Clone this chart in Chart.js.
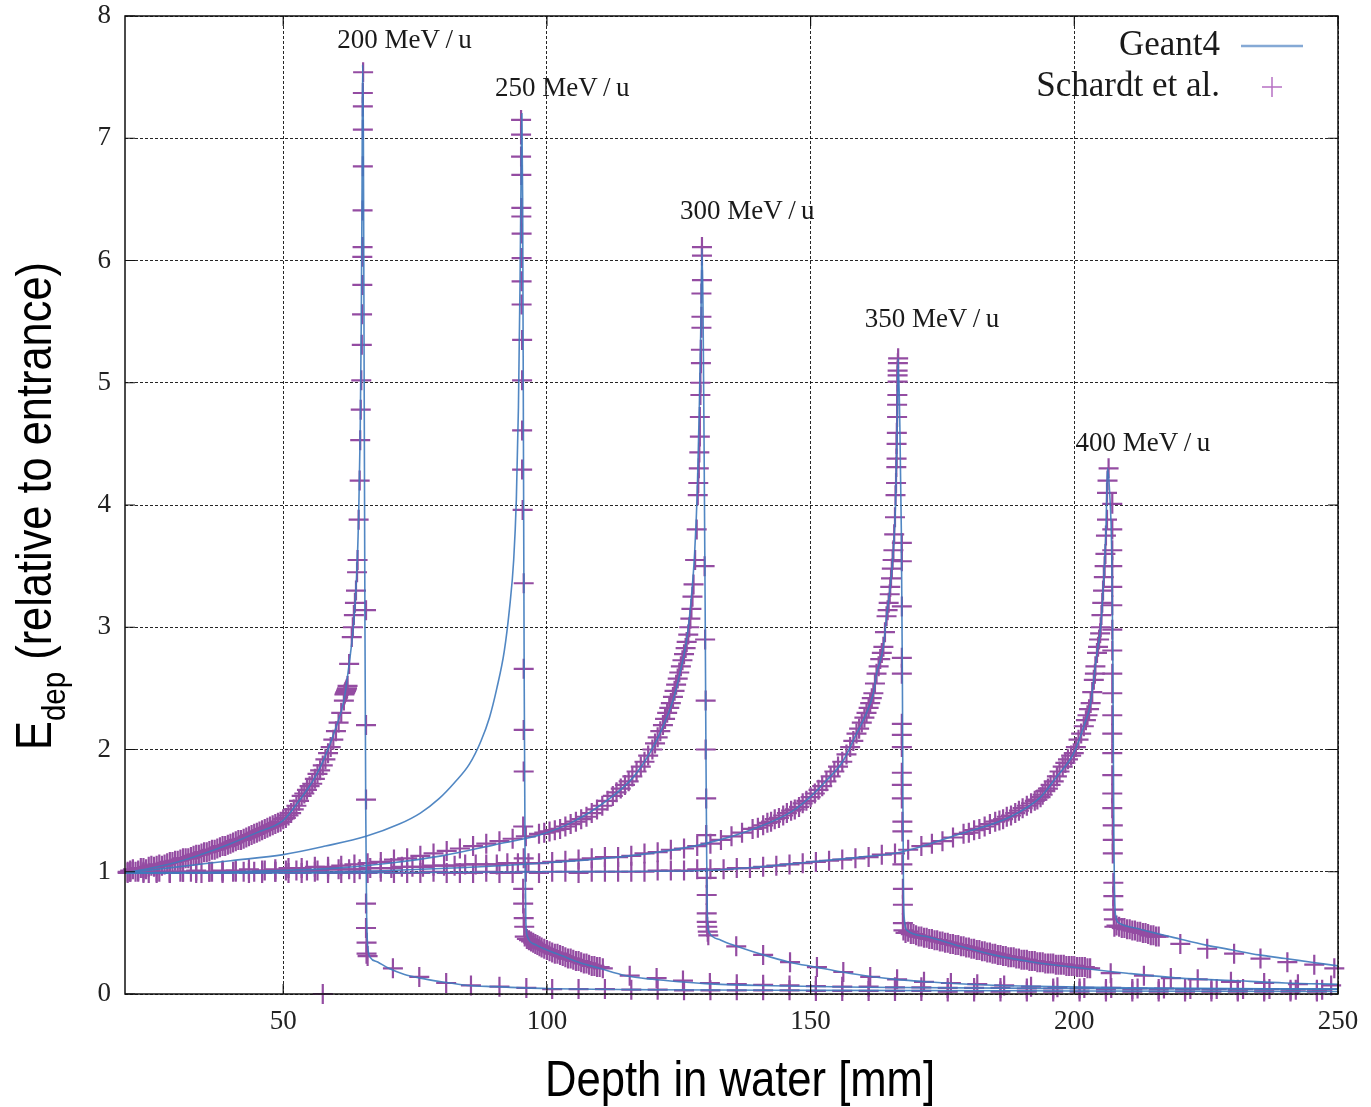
<!DOCTYPE html>
<html>
<head>
<meta charset="utf-8">
<script src="https://cdn.jsdelivr.net/npm/chart.js@4.4.1/dist/chart.umd.min.js"></script>
<style>
  html, body { margin: 0; padding: 0; background: #fff; }
</style>
</head>
<body>
<canvas id="braggChart" width="1371" height="1107"></canvas>
<script>
// axis ticks
const xTicks = [50, 100, 150, 200, 250];
const yTicks = [0, 1, 2, 3, 4, 5, 6, 7, 8];

const seriesNames = ['Geant4', 'Schardt et al.'];
const peakLabels = ['200 MeV\u2009/\u2009u', '250 MeV\u2009/\u2009u', '300 MeV\u2009/\u2009u', '350 MeV\u2009/\u2009u', '400 MeV\u2009/\u2009u'];
const peakLabelAt = [[73.0, 7.80], [102.9, 7.40], [138.0, 6.40], [173.0, 5.51], [213.0, 4.50]];

// Geant4 simulation, [depth mm, Edep rel.]
const g200 = [[20,0.99],[25,1.03],[30,1.08],[35,1.15],[40,1.23],[45,1.32],[50,1.42],[53,1.58],[56,1.77],[58,1.95],
  [60,2.18],[61.5,2.4],[62.5,2.7],[63.3,3.0],[63.9,3.4],[64.3,3.9],[64.6,4.6],[64.8,5.5],[64.95,6.6],[65.05,7.6],
  [65.2,7.0],[65.35,5.0],[65.5,3.0],[65.65,1.5],[65.8,0.7],[66.0,0.4],[66.5,0.3],[68,0.26],[70,0.21],[73,0.16],
  [76,0.13],[80,0.1],[85,0.07],[90,0.06],[100,0.045],[120,0.035],[150,0.03],[200,0.025],[250,0.02]];
const g250 = [[20,0.99],[30,1.04],[40,1.09],[50,1.14],[58,1.21],[65.7,1.29],[72,1.39],[76,1.48],[79.6,1.6],[82.5,1.73],
  [85.3,1.88],[87.5,2.07],[89.1,2.26],[90.5,2.5],[91.9,2.8],[92.9,3.15],[93.7,3.55],[94.2,4.04],[94.6,4.8],[94.9,5.8],
  [95.1,6.7],[95.25,7.2],[95.4,6.5],[95.55,4.5],[95.7,2.5],[95.85,1.2],[96.0,0.6],[96.3,0.47],[98,0.4],[100,0.36],
  [103,0.31],[106,0.26],[110,0.21],[115,0.15],[120,0.12],[125,0.1],[130,0.085],[140,0.07],[160,0.055],[200,0.045],[250,0.04]];
const g300 = [[20,0.99],[40,1.0],[60,1.03],[70,1.07],[80,1.13],[90,1.22],[98.6,1.3],[105,1.41],[111.3,1.58],[116.3,1.77],
  [119.5,1.97],[121.4,2.13],[123.9,2.4],[125.2,2.62],[126.5,2.9],[127.3,3.2],[128,3.6],[128.5,4.1],[128.9,4.8],[129.2,5.5],
  [129.4,6.1],[129.6,5.6],[129.8,4.5],[130,3.2],[130.15,2.0],[130.3,1.1],[130.45,0.6],[130.8,0.5],[133,0.44],[136,0.39],
  [141,0.32],[146,0.26],[151,0.22],[156,0.18],[161,0.145],[166,0.12],[172,0.1],[180,0.08],[190,0.065],[210,0.05],[250,0.04]];
const g350 = [[20,0.99],[60,1.0],[98.6,1.07],[117.6,1.14],[130,1.23],[140.4,1.37],[146.7,1.5],[149.9,1.61],[153.1,1.75],[156.2,1.91],
  [158.7,2.13],[160.6,2.3],[161.9,2.46],[162.5,2.62],[163.8,2.84],[164.4,3.09],[165.1,3.33],[165.7,3.63],[166.1,4.0],[166.4,4.6],
  [166.6,5.2],[166.9,4.7],[167.2,3.8],[167.4,2.6],[167.5,1.6],[167.6,0.9],[167.8,0.6],[168.3,0.52],[172,0.47],[178.4,0.39],
  [184.7,0.32],[192.3,0.26],[201.8,0.21],[210,0.17],[220,0.13],[230,0.11],[240,0.09],[250,0.08]];
const g400 = [[20,0.99],[60,0.99],[100,1.0],[130,1.01],[140.4,1.04],[149.9,1.08],[159.4,1.12],[167,1.16],[178.4,1.31],[187.9,1.45],
  [193.6,1.61],[196.7,1.78],[199.9,1.97],[201.8,2.19],[203.1,2.38],[204.3,2.79],[205,3.0],[205.6,3.41],[206,3.8],[206.3,4.3],
  [206.7,4.1],[207.1,3.6],[207.3,2.8],[207.4,2.0],[207.5,1.3],[207.6,0.9],[207.8,0.65],[208.5,0.58],[212.5,0.53],[220,0.45],
  [225,0.4],[230,0.36],[235,0.32],[240,0.29],[245,0.26],[250,0.23]];

// Schardt et al. measurements
const s200 = [[20.5,1.00],[21.5,1.02],[22.5,1.01],[23.5,1.03],[24.5,1.04],[25.5,1.04],[26.5,1.06],[27.5,1.06],[28.5,1.08],[29.5,1.09],
  [30.5,1.10],[31.5,1.11],[32.5,1.12],[33.5,1.14],[34.5,1.15],[35.5,1.16],[36.5,1.18],[37.5,1.19],[38.5,1.21],[39.5,1.22],
  [40.5,1.24],[41.5,1.26],[42.5,1.27],[43.5,1.29],[44.5,1.31],[45.5,1.33],[46.5,1.35],[47.5,1.37],[48.5,1.39],[49.5,1.41],
  [50.5,1.44],[51.5,1.48],[52.5,1.54],[53.5,1.62],[54.5,1.67],[55.5,1.72],[56.5,1.80],[57.5,1.87],[58.5,1.97],[59.5,2.08],
  [60.5,2.22],[61.0,2.30],[61.5,2.40],[61.8,2.47],[62.0,2.49],[62.5,2.70],[63.0,2.92],[63.4,3.10],[63.8,3.30],
  [21,1.01],[22,1.00],[23,1.03],[24,1.02],[25,1.05],[26,1.05],[27,1.05],[28,1.07],[29,1.08],[30,1.09],
  [31,1.11],[32,1.11],[33,1.13],[34,1.14],[35,1.16],[36,1.17],[37,1.18],[38,1.20],[39,1.21],[40,1.23],
  [41,1.25],[42,1.26],[43,1.28],[44,1.30],[45,1.32],[46,1.34],[47,1.36],[48,1.38],[49,1.40],[50,1.43],
  [51,1.46],[52,1.51],[53,1.58],[54,1.64],[55,1.70],[56,1.76],[57,1.83],[58,1.92],[59,2.02],[60,2.15],
  [61.6,2.45],[61.7,2.46],[61.9,2.48],[62.1,2.50],[62.2,2.52],[63.2,3.0],[63.6,3.2],[64.0,3.45],
  [64.1,3.55],[64.3,3.88],[64.5,4.20],[64.6,4.53],[64.7,4.78],[64.8,5.02],[64.9,5.31],[64.95,5.56],[65.0,5.80],[65.0,6.03],
  [65.05,6.11],[65.05,6.41],[65.1,6.77],[65.1,7.07],[65.1,7.26],[65.1,7.37],[65.15,7.54],
  [65.7,3.14],[65.7,2.20],[65.7,1.59],[65.7,0.74],[65.7,0.54],[65.8,0.42],[65.8,0.33],[66.0,0.31],
  [70.8,0.21],[75.8,0.14],[80.9,0.09],[85.6,0.07],[91.0,0.06],[96.1,0.05],[101,0.04],[106,0.04],[111,0.04],[116,0.035],
  [121,0.035],[126,0.03],[131,0.03],[136,0.03],[141,0.03],[146,0.03],[151,0.025],[156,0.025],[161,0.025],[166,0.025],
  [171,0.025],[176,0.02],[181,0.02],[186,0.02],[191,0.02],[196,0.02],[201,0.02],[206,0.02],[211,0.02],[216,0.02],
  [221,0.02],[226,0.02],[231,0.02],[236,0.02],[241,0.02],[246,0.02],[57.5,0.0]];
const s250 = [[95.1,7.15],[95.1,7.03],[95.1,6.85],[95.15,6.70],[95.15,6.43],[95.15,6.36],[95.2,6.22],[95.2,6.02],[95.2,5.83],[95.2,5.64],
  [95.3,5.35],[95.3,5.02],[95.3,4.61],[95.3,4.29],[95.4,3.96],[95.6,3.36],[95.6,2.66],[95.6,2.16],[95.6,1.82],[95.5,1.37],
  [95.6,1.11],[95.5,0.86],[95.5,0.74],[95.6,0.62],[95.7,0.55],
  [95.8,0.47],[96.2,0.45],[96.6,0.44],[97.0,0.43],[97.4,0.42],[97.8,0.41],[98.2,0.40],[98.6,0.39],[99.0,0.38],[99.5,0.37],
  [100,0.36],[100.5,0.35],[101,0.34],[101.5,0.33],[102,0.33],[102.5,0.32],[103,0.31],[103.5,0.30],[104,0.29],[104.5,0.29],
  [105,0.28],[105.5,0.27],[106,0.27],[106.5,0.26],[107,0.25],[107.5,0.25],[108,0.24],[108.5,0.23],[109,0.23],[109.5,0.22],
  [110,0.22],[110.6,0.21],[115.7,0.15],[120.8,0.13],[125.8,0.11],[130.9,0.09],[136,0.08],[141,0.075],[146,0.07],[151,0.065],
  [156,0.06],[161,0.06],[166,0.055],[171,0.055],[176,0.05],[181,0.05],[186,0.05],[191,0.045],[196,0.045],[201,0.045],
  [206,0.04],[211,0.04],[216,0.04],[221,0.04],[226,0.04],[231,0.035],[236,0.035],[241,0.035],[246,0.035]];
const s300 = [[21,1.00],[23.5,1.0],[26,0.99],[28.5,1.0],[31,1.0],[33.5,1.01],[36,1.0],[38.5,1.01],[41,1.01],[43.5,1.02],
  [46,1.01],[48.5,1.02],[51,1.03],[53.5,1.03],[56,1.04],[58.5,1.04],[61,1.05],[63.5,1.06],[66,1.07],[68.5,1.08],
  [71,1.10],[73.5,1.11],[76,1.13],[78.5,1.15],[81,1.17],[83.5,1.19],[86,1.21],[88.5,1.23],[91,1.25],[93.5,1.27],
  [96,1.29],[98.5,1.31],[100.5,1.33],[102.5,1.35],[104.5,1.39],[106.5,1.43],[108.5,1.48],[110.5,1.54],[112.5,1.62],[114,1.68],
  [115.5,1.74],[117,1.82],[118.5,1.90],[120,2.0],[121,2.10],[122,2.20],[122.8,2.30],[123.5,2.38],[124.2,2.48],[124.8,2.58],
  [125.4,2.68],[126,2.78],[126.5,2.88],[127,3.0],[127.4,3.15],[127.8,3.35],[128.1,3.55],[128.4,3.8],[128.6,4.08],[128.7,4.18],
  [99.5,1.32],[101.5,1.34],[103.5,1.37],[105.5,1.41],[107.5,1.45],[109.5,1.51],[111.5,1.58],[113.2,1.65],[114.8,1.71],[116.2,1.78],
  [117.8,1.86],[119.2,1.95],[120.5,2.05],[121.5,2.15],[122.4,2.25],[123.2,2.34],[123.9,2.43],[124.5,2.53],[125.1,2.63],[125.7,2.73],
  [126.3,2.83],[126.8,2.94],[127.2,3.07],[127.6,3.25],
  [128.8,4.3],[128.9,4.43],[129.0,4.56],[129.0,4.72],[129.1,4.9],[129.1,5.0],[129.2,5.16],[129.2,5.27],[129.3,5.45],[129.3,5.54],
  [129.3,5.73],[129.4,5.84],[129.4,6.04],[129.4,6.11],
  [129.9,3.5],[130.0,2.9],[130.1,2.4],[130.1,2.0],[130.2,1.6],[130.2,1.3],[130.3,0.95],[130.3,0.81],[130.3,0.66],[130.3,0.59],
  [130.4,0.55],[130.5,0.51],[130.6,0.48],[135.9,0.39],[141,0.32],[146.1,0.26],[151.2,0.22],[156.2,0.18],[161.3,0.14],[166.4,0.12],
  [171.5,0.10],[176.6,0.09],[181.6,0.08],[186.7,0.07],[191.8,0.06],[196.8,0.055],[201.9,0.05],[207,0.05],[212,0.045],[217,0.045],
  [222,0.04],[227,0.04],[232,0.04],[237,0.04],[242,0.035],[247,0.035]];
const s350 = [[20.5,0.99],[22.5,1.0],[24.5,0.99],[26.5,1.0],[28.5,0.99],[30.5,1.0],[32.5,1.0],[34.5,0.99],[36.5,1.0],[38.5,1.0],
  [40.5,1.0],[42.5,1.0],[44.5,1.0],[46.5,1.01],[48.5,1.0],[50.5,1.01],[52.5,1.01],[54.5,1.01],[56.5,1.01],[58.5,1.02],
  [60.5,1.02],[62.5,1.02],[64.5,1.02],[66.5,1.03],[68.5,1.03],[70.5,1.03],[72.5,1.04],[74.5,1.04],[76.5,1.04],[78.5,1.05],
  [80.5,1.05],[82.5,1.05],[84.5,1.06],[86.5,1.06],[88.5,1.06],[90.5,1.06],[92.5,1.07],[94.5,1.07],[96.5,1.07],[98.5,1.07],
  [101,1.08],[103.5,1.09],[106,1.10],[108.5,1.11],[111,1.12],[113.5,1.12],[116,1.13],[118.5,1.15],[121,1.16],[123.5,1.18],
  [126,1.19],[128.5,1.21],[131,1.23],[133,1.26],[135,1.29],[137,1.32],[139,1.35],[141,1.38],[142.5,1.41],[144,1.44],
  [145.5,1.48],[147,1.51],[148.5,1.56],[150,1.61],[151.5,1.67],[153,1.74],[154.5,1.82],[156,1.90],[157.5,2.02],[158.7,2.13],
  [159.7,2.22],[160.6,2.30],[161.3,2.38],[161.9,2.46],[162.5,2.62],[163.2,2.74],[163.8,2.84],[164.4,3.09],[164.8,3.2],[165.1,3.33],
  [140,1.36],[141.8,1.40],[143.2,1.43],[144.8,1.46],[146.3,1.50],[147.8,1.53],[149.2,1.58],[150.8,1.64],[152.2,1.70],[153.8,1.78],
  [155.2,1.86],[156.8,1.96],[158.1,2.07],[159.2,2.17],[160.2,2.26],[161,2.34],[161.6,2.42],[162.2,2.54],[162.9,2.68],[163.5,2.79],
  [164.1,2.96],[164.6,3.14],[165.0,3.27],[165.25,3.4],[165.55,3.55],[165.85,3.76],
  [165.4,3.48],[165.7,3.63],[166.0,3.9],[166.1,4.08],[166.2,4.18],[166.25,4.31],[166.3,4.38],[166.3,4.5],[166.35,4.59],[166.4,4.72],
  [166.4,4.82],[166.45,4.9],[166.5,5.01],[166.5,5.06],[166.5,5.1],[166.55,5.16],[166.6,5.2],
  [167.3,3.69],[167.3,3.54],[167.3,3.17],[167.3,2.75],[167.3,2.62],[167.3,2.21],[167.3,2.12],[167.3,2.02],[167.3,1.81],[167.3,1.71],
  [167.3,1.6],[167.4,1.41],[167.4,1.33],[167.4,1.06],[167.5,0.86],[167.5,0.73],[167.5,0.58],[167.6,0.52],
  [168,0.50],[169,0.49],[170,0.48],[171,0.47],[172,0.46],[173,0.45],[174,0.44],[175,0.43],[176,0.42],[177,0.41],
  [178,0.40],[179,0.39],[180,0.38],[181,0.37],[182,0.36],[183,0.35],[184,0.34],[185,0.33],[186,0.32],[187,0.31],
  [188,0.30],[189,0.29],[190,0.28],[191,0.28],[192,0.27],[193,0.26],[194,0.26],[195,0.25],[196,0.25],[197,0.24],
  [198,0.24],[199,0.23],[200,0.23],[201,0.22],[202,0.22],[203,0.21],
  [168.5,0.51],[169.5,0.49],[170.5,0.47],[171.5,0.46],[172.5,0.45],[173.5,0.44],[174.5,0.43],[175.5,0.42],[176.5,0.41],[177.5,0.40],
  [178.5,0.39],[179.5,0.38],[180.5,0.37],[181.5,0.36],[182.5,0.35],[183.5,0.34],[184.5,0.33],[185.5,0.32],[186.5,0.31],[187.5,0.30],
  [188.5,0.30],[189.5,0.29],[190.5,0.28],[191.5,0.27],[192.5,0.27],[193.5,0.26],[194.5,0.25],[195.5,0.25],[196.5,0.24],[197.5,0.24],
  [198.5,0.23],[199.5,0.23],[200.5,0.22],[201.5,0.22],[202.5,0.21],
  [206.9,0.17],[213.2,0.15],[218.3,0.13],[223.4,0.12],[229.7,0.10],[236,0.09],[242.4,0.08],[248.7,0.07]];
const s400 = [[21,1.0],[23.5,0.99],[26,1.0],[28.5,0.99],[31,1.0],[33.5,0.99],[36,1.0],[38.5,0.99],[41,1.0],[43.5,0.99],
  [46,0.99],[48.5,1.0],[51,0.99],[53.5,0.99],[56,1.0],[58.5,0.99],[61,0.99],[63.5,0.99],[66,0.99],[68.5,1.0],
  [71,0.99],[73.5,0.99],[76,0.99],[78.5,1.0],[81,0.99],[83.5,0.99],[86,0.99],[88.5,1.0],[91,0.99],[93.5,0.99],
  [96,1.0],[98.5,0.99],[101,1.0],[103.5,1.0],[106,0.99],[108.5,1.0],[111,1.0],[113.5,1.0],[116,1.0],[118.5,1.0],
  [121,1.01],[123.5,1.01],[126,1.01],[128.5,1.02],[131,1.02],[133.5,1.02],[136,1.03],[138.5,1.03],[141,1.04],[143.5,1.05],
  [146,1.06],[148.5,1.07],[151,1.08],[153.5,1.09],[156,1.10],[158.5,1.11],[161,1.12],[163.5,1.14],[166,1.15],[168.5,1.18],
  [171,1.21],[173,1.23],[175,1.25],[177,1.28],[179,1.31],[181,1.34],[183,1.37],[185,1.41],[186.5,1.43],[188,1.46],
  [189.5,1.50],[191,1.54],[192.5,1.58],[193.6,1.61],[194.5,1.66],[195.5,1.71],[196.7,1.78],[197.8,1.86],[198.8,1.92],[199.9,1.97],
  [180,1.32],[182,1.35],[184,1.39],[185.8,1.42],[187.2,1.45],[188.8,1.48],[190.2,1.52],[191.8,1.56],[193,1.59],[194,1.63],
  [195,1.68],[196.1,1.74],[197.2,1.82],[198.3,1.89],[199.4,1.95],[200.3,2.02],[201.3,2.13],[202.2,2.24],[202.8,2.33],[203.4,2.47],
  [203.9,2.62],[204.5,2.84],[204.9,2.95],[205.15,3.1],[205.45,3.3],[205.75,3.5],
  [200.8,2.08],[201.8,2.19],[202.5,2.28],[203.1,2.38],[203.7,2.57],[204.0,2.68],[204.3,2.79],[204.7,2.9],[205.0,3.0],[205.3,3.2],
  [205.6,3.41],[205.9,3.6],[206.0,3.75],[206.2,3.88],[206.2,4.1],[206.3,4.2],[206.5,4.3],
  [207.2,4.01],[207.2,3.8],[207.2,3.63],[207.2,3.5],[207.2,3.33],[207.2,3.18],[207.2,2.98],[207.2,2.81],[207.2,2.62],[207.2,2.46],
  [207.2,2.28],[207.2,2.13],[207.2,1.97],[207.2,1.79],[207.2,1.64],[207.2,1.52],[207.3,1.38],[207.3,1.26],[207.3,1.15],[207.4,0.91],
  [207.4,0.8],[207.4,0.69],[207.5,0.61],[207.6,0.55],
  [208,0.56],[208.5,0.55],[209,0.54],[209.5,0.54],[210,0.53],[210.5,0.53],[211,0.52],[211.5,0.52],[212,0.51],[212.5,0.51],
  [213,0.50],[213.5,0.50],[214,0.49],[214.5,0.48],[215,0.48],[215.5,0.47],[216,0.47],
  [220.1,0.41],[225.2,0.37],[230.3,0.33],[235.3,0.29],[240.4,0.26],[245.5,0.24],[249.3,0.21]];

const SERIF = '"Liberation Serif", "DejaVu Serif", serif';
const SANS = '"Liberation Sans", Arial, sans-serif';
const LINE_COLOR = 'rgba(62,122,188,0.9)';
const MARK_COLOR = 'rgb(148,76,162)';

const pts = a => a.map(([x, y]) => ({ x, y }));

const geant = [g200, g250, g300, g350, g400].map(d => ({
  label: seriesNames[0],
  data: pts(d),
  showLine: true,
  borderColor: LINE_COLOR,
  borderWidth: 1.6,
  pointRadius: 0,
  cubicInterpolationMode: 'monotone'
}));
const schardt = [s200, s250, s300, s350, s400].map(d => ({
  label: seriesNames[1],
  data: pts(d),
  showLine: false,
  pointStyle: 'cross',
  pointRadius: 10,
  pointBorderWidth: 2.2,
  pointBorderColor: MARK_COLOR,
  borderColor: MARK_COLOR,
  clip: false
}));

// frame, inner ticks, labels, legend and axis titles
const decorations = {
  id: 'decorations',
  afterDraw(chart) {
    const { ctx, chartArea: a, scales: { x, y } } = chart;
    ctx.save();
    ctx.setLineDash([]);
    ctx.strokeStyle = '#111';
    ctx.lineWidth = 1.5;
    ctx.strokeRect(a.left, a.top, a.right - a.left, a.bottom - a.top);

    ctx.lineWidth = 1.2;
    ctx.beginPath();
    xTicks.forEach(v => {
      const px = x.getPixelForValue(v);
      ctx.moveTo(px, a.bottom); ctx.lineTo(px, a.bottom - 10);
      ctx.moveTo(px, a.top); ctx.lineTo(px, a.top + 10);
    });
    yTicks.forEach(v => {
      const py = y.getPixelForValue(v);
      ctx.moveTo(a.left, py); ctx.lineTo(a.left + 10, py);
      ctx.moveTo(a.right, py); ctx.lineTo(a.right - 10, py);
    });
    ctx.stroke();

    // peak labels
    ctx.fillStyle = '#1a1a1a';
    ctx.font = '27px ' + SERIF;
    ctx.textAlign = 'center';
    ctx.textBaseline = 'middle';
    peakLabels.forEach((t, i) => {
      ctx.fillText(t, x.getPixelForValue(peakLabelAt[i][0]), y.getPixelForValue(peakLabelAt[i][1]));
    });

    // legend
    ctx.font = '35px ' + SERIF;
    ctx.textAlign = 'right';
    ctx.fillText(seriesNames[0], 1220, 46);
    ctx.fillText(seriesNames[1], 1220, 87);
    ctx.strokeStyle = 'rgba(120,160,208,0.9)';
    ctx.lineWidth = 2.5;
    ctx.beginPath(); ctx.moveTo(1241, 46); ctx.lineTo(1303, 46); ctx.stroke();
    ctx.strokeStyle = 'rgb(182,112,196)';
    ctx.lineWidth = 1.5;
    ctx.beginPath();
    ctx.moveTo(1262, 87); ctx.lineTo(1282, 87);
    ctx.moveTo(1272, 77); ctx.lineTo(1272, 97);
    ctx.stroke();

    // x title (condensed)
    ctx.fillStyle = '#000';
    ctx.font = '50px ' + SANS;
    ctx.textAlign = 'center';
    ctx.textBaseline = 'alphabetic';
    const xt = 'Depth in water [mm]';
    const sx = 390 / ctx.measureText(xt).width;
    ctx.save();
    ctx.translate(740, 1096);
    ctx.scale(sx, 1);
    ctx.fillText(xt, 0, 0);
    ctx.restore();

    // y title with subscript
    ctx.textAlign = 'left';
    const mainFont = '50px ' + SANS, subFont = '34px ' + SANS;
    ctx.font = mainFont; const wE = ctx.measureText('E').width;
    const rest = ' (relative to entrance)'; const wR = ctx.measureText(rest).width;
    ctx.font = subFont; const wS = ctx.measureText('dep').width;
    const total = wE + wS + wR;
    const sy = 488 / total;
    ctx.save();
    ctx.translate(51, 506);
    ctx.rotate(-Math.PI / 2);
    ctx.scale(sy, 1);
    let cx = -total / 2;
    ctx.font = mainFont; ctx.fillText('E', cx, 0); cx += wE;
    ctx.font = subFont; ctx.fillText('dep', cx, 14); cx += wS;
    ctx.font = mainFont; ctx.fillText(rest, cx, 0);
    ctx.restore();
    ctx.restore();
  }
};

new Chart(document.getElementById('braggChart').getContext('2d'), {
  type: 'scatter',
  data: { datasets: [...geant, ...schardt] },
  options: {
    responsive: false,
    animation: false,
    devicePixelRatio: 1,
    layout: { padding: { top: 16, right: 33, left: 0, bottom: 0 } },
    plugins: { legend: { display: false }, tooltip: { enabled: false } },
    scales: {
      x: {
        type: 'linear',
        min: 20,
        max: 250,
        afterBuildTicks: s => { s.ticks = xTicks.map(v => ({ value: v })); },
        afterFit: s => { s.height = 113; s.paddingLeft = 0; s.paddingRight = 0; },
        grid: { color: 'rgba(0,0,0,0.85)', lineWidth: 1, drawTicks: false },
        border: { display: false, dash: [3, 2] },
        ticks: { color: '#222', padding: 12, maxRotation: 0, font: { family: SERIF, size: 27 } }
      },
      y: {
        type: 'linear',
        min: 0,
        max: 8,
        afterBuildTicks: s => { s.ticks = yTicks.map(v => ({ value: v })); },
        afterFit: s => { s.width = 125; s.paddingTop = 0; s.paddingBottom = 0; },
        grid: { color: 'rgba(0,0,0,0.85)', lineWidth: 1, drawTicks: false },
        border: { display: false, dash: [3, 2] },
        ticks: { color: '#222', padding: 14, font: { family: SERIF, size: 27 } }
      }
    }
  },
  plugins: [decorations]
});
</script>
</body>
</html>
